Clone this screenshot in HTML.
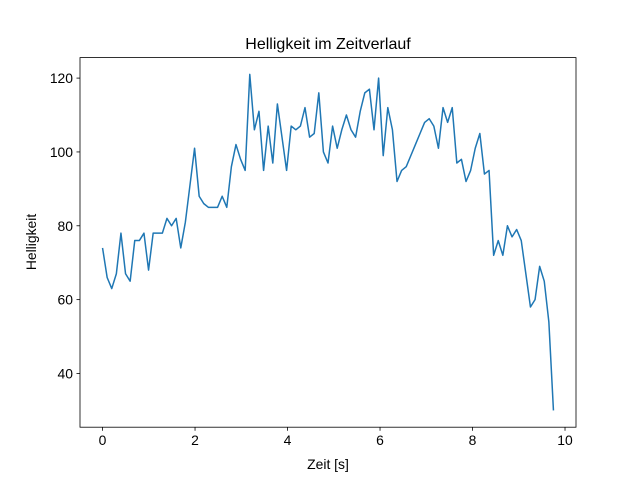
<!DOCTYPE html>
<html><head><meta charset="utf-8"><style>
body{margin:0;background:#fff;}
svg{display:block;font-family:"Liberation Sans","DejaVu Sans",sans-serif;}
</style></head><body>
<svg id="chart" width="640" height="480">
<rect width="640" height="480" fill="#fff"/>
<text x="328" y="49" text-anchor="middle" font-size="16">Helligkeit im Zeitverlauf</text>
<g id="ticks"></g>
<path id="line" fill="none" stroke="#1f77b4" stroke-width="1.5" stroke-linejoin="round"/>
<rect x="80" y="57.6" width="496" height="369.6" fill="none" stroke="#000" stroke-width="0.8"/>
<text x="328" y="469" text-anchor="middle" font-size="13.9">Zeit [s]</text>
<text transform="translate(36,242) rotate(-90)" text-anchor="middle" font-size="13.9">Helligkeit</text>
</svg>
<script>
const brightness=[74,66,63,67,78,67,65,76,76,78,68,78,78,78,82,80,82,74,81,91,101,88,86,85,85,85,88,85,96,102,98,95,121,106,111,95,107,97,113,104,95,107,106,107,112,104,105,116,100,97,107,101,106,110,106,104,111,116,117,106,120,99,112,106,92,95,96,99,102,105,108,109,107,101,112,108,112,97,98,92,95,101,105,94,95,72,76,72,80,77,79,76,67,58,60,69,65,54,30];
const tEnd=9.75;
const xTicks=[0,2,4,6,8,10];
const yTicks=[40,60,80,100,120];
const n=brightness.length;
const times=brightness.map((v,i)=>i*tEnd/(n-1));
const L=80,R=576,T=57.6,B=427.2;
const xmin=Math.min(...times),xmax=Math.max(...times),xm=(xmax-xmin)*0.05;
const ymin=Math.min(...brightness),ymax=Math.max(...brightness),ym=(ymax-ymin)*0.05;
const xs=v=>L+(v-(xmin-xm))/((xmax+xm)-(xmin-xm))*(R-L);
const ys=v=>B-(v-(ymin-ym))/((ymax+ym)-(ymin-ym))*(B-T);
const ns='http://www.w3.org/2000/svg';
const line=document.getElementById('line');
line.setAttribute('d',brightness.map((v,i)=>(i?'L':'M')+xs(times[i]).toFixed(2)+' '+ys(v).toFixed(2)).join(''));
const g=document.getElementById('ticks');
xTicks.forEach(t=>{
 const x=xs(t);
 const l=document.createElementNS(ns,'line');
 l.setAttribute('x1',x);l.setAttribute('x2',x);l.setAttribute('y1',B);l.setAttribute('y2',B+3.5);l.setAttribute('stroke','#000');l.setAttribute('stroke-width','0.8');
 
 
 g.appendChild(l);
 const tx=document.createElementNS(ns,'text');
 tx.setAttribute('x',x);tx.setAttribute('y',B+18);tx.setAttribute('text-anchor','middle');tx.setAttribute('font-size','13.9');
 tx.textContent=t;
 
 
 g.appendChild(tx);
});
yTicks.forEach(t=>{
 const y=ys(t);
 const l=document.createElementNS(ns,'line');
 l.setAttribute('x1',L-3.5);l.setAttribute('x2',L);l.setAttribute('y1',y);l.setAttribute('y2',y);l.setAttribute('stroke','#000');l.setAttribute('stroke-width','0.8');
 
 
 g.appendChild(l);
 const tx=document.createElementNS(ns,'text');
 tx.setAttribute('x',L-7);tx.setAttribute('y',y+5);tx.setAttribute('text-anchor','end');tx.setAttribute('font-size','13.9');
 tx.textContent=t;
 
 
 g.appendChild(tx);
});
</script>
</body></html>
